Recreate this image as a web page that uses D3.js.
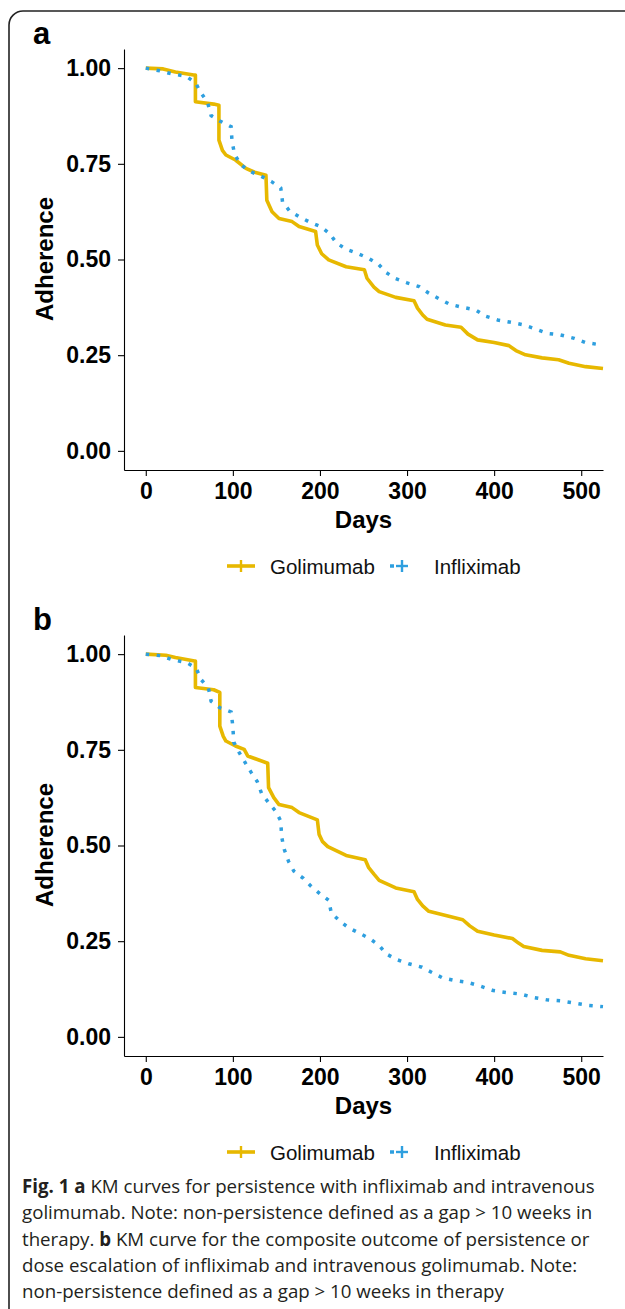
<!DOCTYPE html>
<html>
<head>
<meta charset="utf-8">
<script src="https://cdn.jsdelivr.net/npm/d3@7"></script>
<style>
  body { margin: 0; background: #fff; }
  .axis text { font-family: "Liberation Sans", Arial, sans-serif; font-weight: bold; font-size: 23px; fill: #000; }
  .axis path, .axis line { stroke: #000; stroke-width: 1.1px; }
  .axis-title { font-family: "Liberation Sans", Arial, sans-serif; font-weight: bold; font-size: 24px; }
  .legend-text { font-family: "Liberation Sans", Arial, sans-serif; font-size: 20.5px; fill: #111; }
  .caption { font-family: "Open Sans", sans-serif; font-size: 18.7px; fill: #231f20; }
</style>
</head>
<body>
<svg id="fig" width="625" height="1309"></svg>
<script>
// ---- data: [days, adherence] ----
const golimumabA = [[0,1.000],[20,0.998],[34,0.990],[55,0.982],[57,0.982],[57,0.912],[78,0.906],[84,0.903],[84,0.812],[88,0.785],[92,0.773],[103,0.760],[115,0.738],[125,0.728],[138,0.720],[139,0.655],[145,0.625],[153,0.607],[168,0.599],[176,0.586],[195,0.573],[197,0.538],[202,0.515],[210,0.499],[230,0.481],[251,0.473],[254,0.451],[262,0.428],[268,0.416],[287,0.401],[308,0.392],[312,0.373],[318,0.355],[323,0.344],[344,0.329],[362,0.323],[370,0.305],[381,0.290],[400,0.283],[417,0.275],[425,0.262],[436,0.251],[455,0.243],[474,0.238],[486,0.229],[505,0.220],[525,0.215]];
const infliximabA = [[0,1.000],[16,0.993],[30,0.985],[46,0.979],[57,0.962],[63,0.937],[71,0.910],[75,0.876],[85,0.862],[98,0.847],[99,0.809],[102,0.775],[109,0.748],[119,0.731],[132,0.718],[144,0.704],[155,0.687],[157,0.651],[165,0.627],[176,0.612],[188,0.598],[201,0.586],[211,0.568],[219,0.543],[230,0.527],[243,0.516],[256,0.503],[267,0.488],[276,0.466],[287,0.450],[300,0.439],[314,0.429],[325,0.412],[337,0.397],[349,0.383],[364,0.375],[379,0.368],[390,0.352],[404,0.342],[419,0.336],[434,0.329],[448,0.318],[461,0.307],[476,0.303],[492,0.294],[505,0.283],[525,0.276]];
const golimumabB = [[0,1.000],[23,0.997],[34,0.991],[56,0.982],[57,0.982],[57,0.913],[78,0.907],[85,0.900],[85,0.812],[89,0.785],[92,0.773],[103,0.760],[113,0.751],[117,0.734],[140,0.715],[141,0.651],[147,0.625],[153,0.607],[168,0.599],[176,0.586],[197,0.567],[199,0.529],[203,0.510],[209,0.497],[230,0.474],[252,0.463],[256,0.442],[262,0.425],[268,0.409],[287,0.389],[308,0.379],[312,0.359],[318,0.342],[325,0.328],[348,0.315],[364,0.306],[372,0.290],[381,0.276],[400,0.266],[421,0.257],[428,0.245],[434,0.236],[455,0.226],[476,0.222],[486,0.213],[505,0.204],[525,0.199]];
const infliximabB = [[0,1.000],[17,0.996],[31,0.985],[47,0.978],[58,0.963],[63,0.935],[72,0.911],[75,0.877],[85,0.860],[98,0.849],[100,0.811],[101,0.770],[107,0.744],[114,0.717],[121,0.691],[128,0.667],[133,0.636],[141,0.612],[149,0.590],[155,0.564],[156,0.523],[159,0.490],[164,0.458],[170,0.433],[181,0.414],[190,0.393],[200,0.374],[210,0.357],[213,0.324],[223,0.302],[233,0.285],[246,0.270],[257,0.257],[268,0.239],[276,0.217],[288,0.202],[302,0.191],[317,0.182],[328,0.169],[341,0.154],[355,0.147],[370,0.142],[385,0.132],[399,0.121],[414,0.116],[430,0.112],[445,0.103],[460,0.097],[477,0.094],[493,0.088],[509,0.082],[525,0.079]];

const xTicks = [0, 100, 200, 300, 400, 500];
const yTicks = [0, 0.25, 0.5, 0.75, 1];
const seriesNames = ["Golimumab", "Infliximab"];
const seriesColors = ["#E7B800", "#2E9FDF"];
const panelLetters = ["a", "b"];
const captionLines = [
  [["Fig. 1 a", true], [" KM curves for persistence with infliximab and intravenous", false]],
  [["golimumab. Note: non-persistence defined as a gap > 10 weeks in", false]],
  [["therapy. ", false], ["b", true], [" KM curve for the composite outcome of persistence or", false]],
  [["dose escalation of infliximab and intravenous golimumab. Note:", false]],
  [["non-persistence defined as a gap > 10 weeks in therapy", false]]
];

const svg = d3.select("#fig");

// rounded frame around the figure
svg.append("rect")
    .attr("x", 9).attr("y", 11)
    .attr("width", 660).attr("height", 1340)
    .attr("rx", 14)
    .attr("fill", "none")
    .attr("stroke", "#222")
    .attr("stroke-width", 1.6);

function drawPanel(offsetY, letter, golData, infData) {
  const g = svg.append("g").attr("transform", `translate(0,${offsetY})`);

  const x = d3.scaleLinear().domain([-25, 525]).range([124, 603]);
  const y = d3.scaleLinear().domain([-0.05, 1.05]).range([470, 49]);

  g.append("text")
      .attr("x", 33).attr("y", 44)
      .style("font-family", "Liberation Sans, Arial, sans-serif")
      .style("font-weight", "bold")
      .style("font-size", "31px")
      .text(letter);

  // axes
  g.append("g")
      .attr("class", "axis")
      .attr("transform", "translate(0,470)")
      .call(d3.axisBottom(x).tickValues(xTicks).tickSize(6).tickSizeOuter(0).tickPadding(7));
  g.append("g")
      .attr("class", "axis")
      .attr("transform", "translate(124,0)")
      .call(d3.axisLeft(y).tickValues(yTicks).tickFormat(d3.format(".2f")).tickSize(6).tickSizeOuter(0).tickPadding(7));

  g.append("text")
      .attr("class", "axis-title")
      .attr("x", 363.5).attr("y", 528)
      .attr("text-anchor", "middle")
      .text("Days");
  g.append("text")
      .attr("class", "axis-title")
      .attr("transform", "translate(53,259) rotate(-90)")
      .attr("text-anchor", "middle")
      .text("Adherence");

  const line = d3.line()
      .x(d => x(d[0]))
      .y(d => y(d[1]));

  g.append("path")
      .datum(golData)
      .attr("d", line)
      .attr("fill", "none")
      .attr("stroke", seriesColors[0])
      .attr("stroke-width", 3.6)
      .attr("stroke-linejoin", "round");
  g.append("path")
      .datum(infData)
      .attr("d", line)
      .attr("fill", "none")
      .attr("stroke", seriesColors[1])
      .attr("stroke-width", 3.5)
      .attr("stroke-dasharray", "3.5,7.5");

  // legend
  const lg = g.append("g").attr("transform", "translate(0,566)");
  lg.append("line").attr("x1", 227).attr("x2", 255).attr("y1", 0).attr("y2", 0)
      .attr("stroke", seriesColors[0]).attr("stroke-width", 3.6);
  lg.append("line").attr("x1", 241).attr("x2", 241).attr("y1", -6).attr("y2", 6)
      .attr("stroke", seriesColors[0]).attr("stroke-width", 2.4);
  lg.append("text").attr("class", "legend-text").attr("x", 270).attr("y", 7.5).text(seriesNames[0]);

  lg.append("line").attr("x1", 390).attr("x2", 394).attr("y1", 0).attr("y2", 0)
      .attr("stroke", seriesColors[1]).attr("stroke-width", 3.5);
  lg.append("line").attr("x1", 396).attr("x2", 408).attr("y1", 0).attr("y2", 0)
      .attr("stroke", seriesColors[1]).attr("stroke-width", 2.4);
  lg.append("line").attr("x1", 402).attr("x2", 402).attr("y1", -6).attr("y2", 6)
      .attr("stroke", seriesColors[1]).attr("stroke-width", 2.4);
  lg.append("text").attr("class", "legend-text").attr("x", 434).attr("y", 7.5).text(seriesNames[1]);
}

drawPanel(0, panelLetters[0], golimumabA, infliximabA);
drawPanel(586, panelLetters[1], golimumabB, infliximabB);

// caption
captionLines.forEach((parts, i) => {
  const t = svg.append("text")
      .attr("class", "caption")
      .attr("x", 22)
      .attr("y", 1193 + i * 26.3);
  parts.forEach(p => {
    t.append("tspan")
        .style("font-weight", p[1] ? "bold" : "normal")
        .text(p[0]);
  });
});
</script>
</body>
</html>
